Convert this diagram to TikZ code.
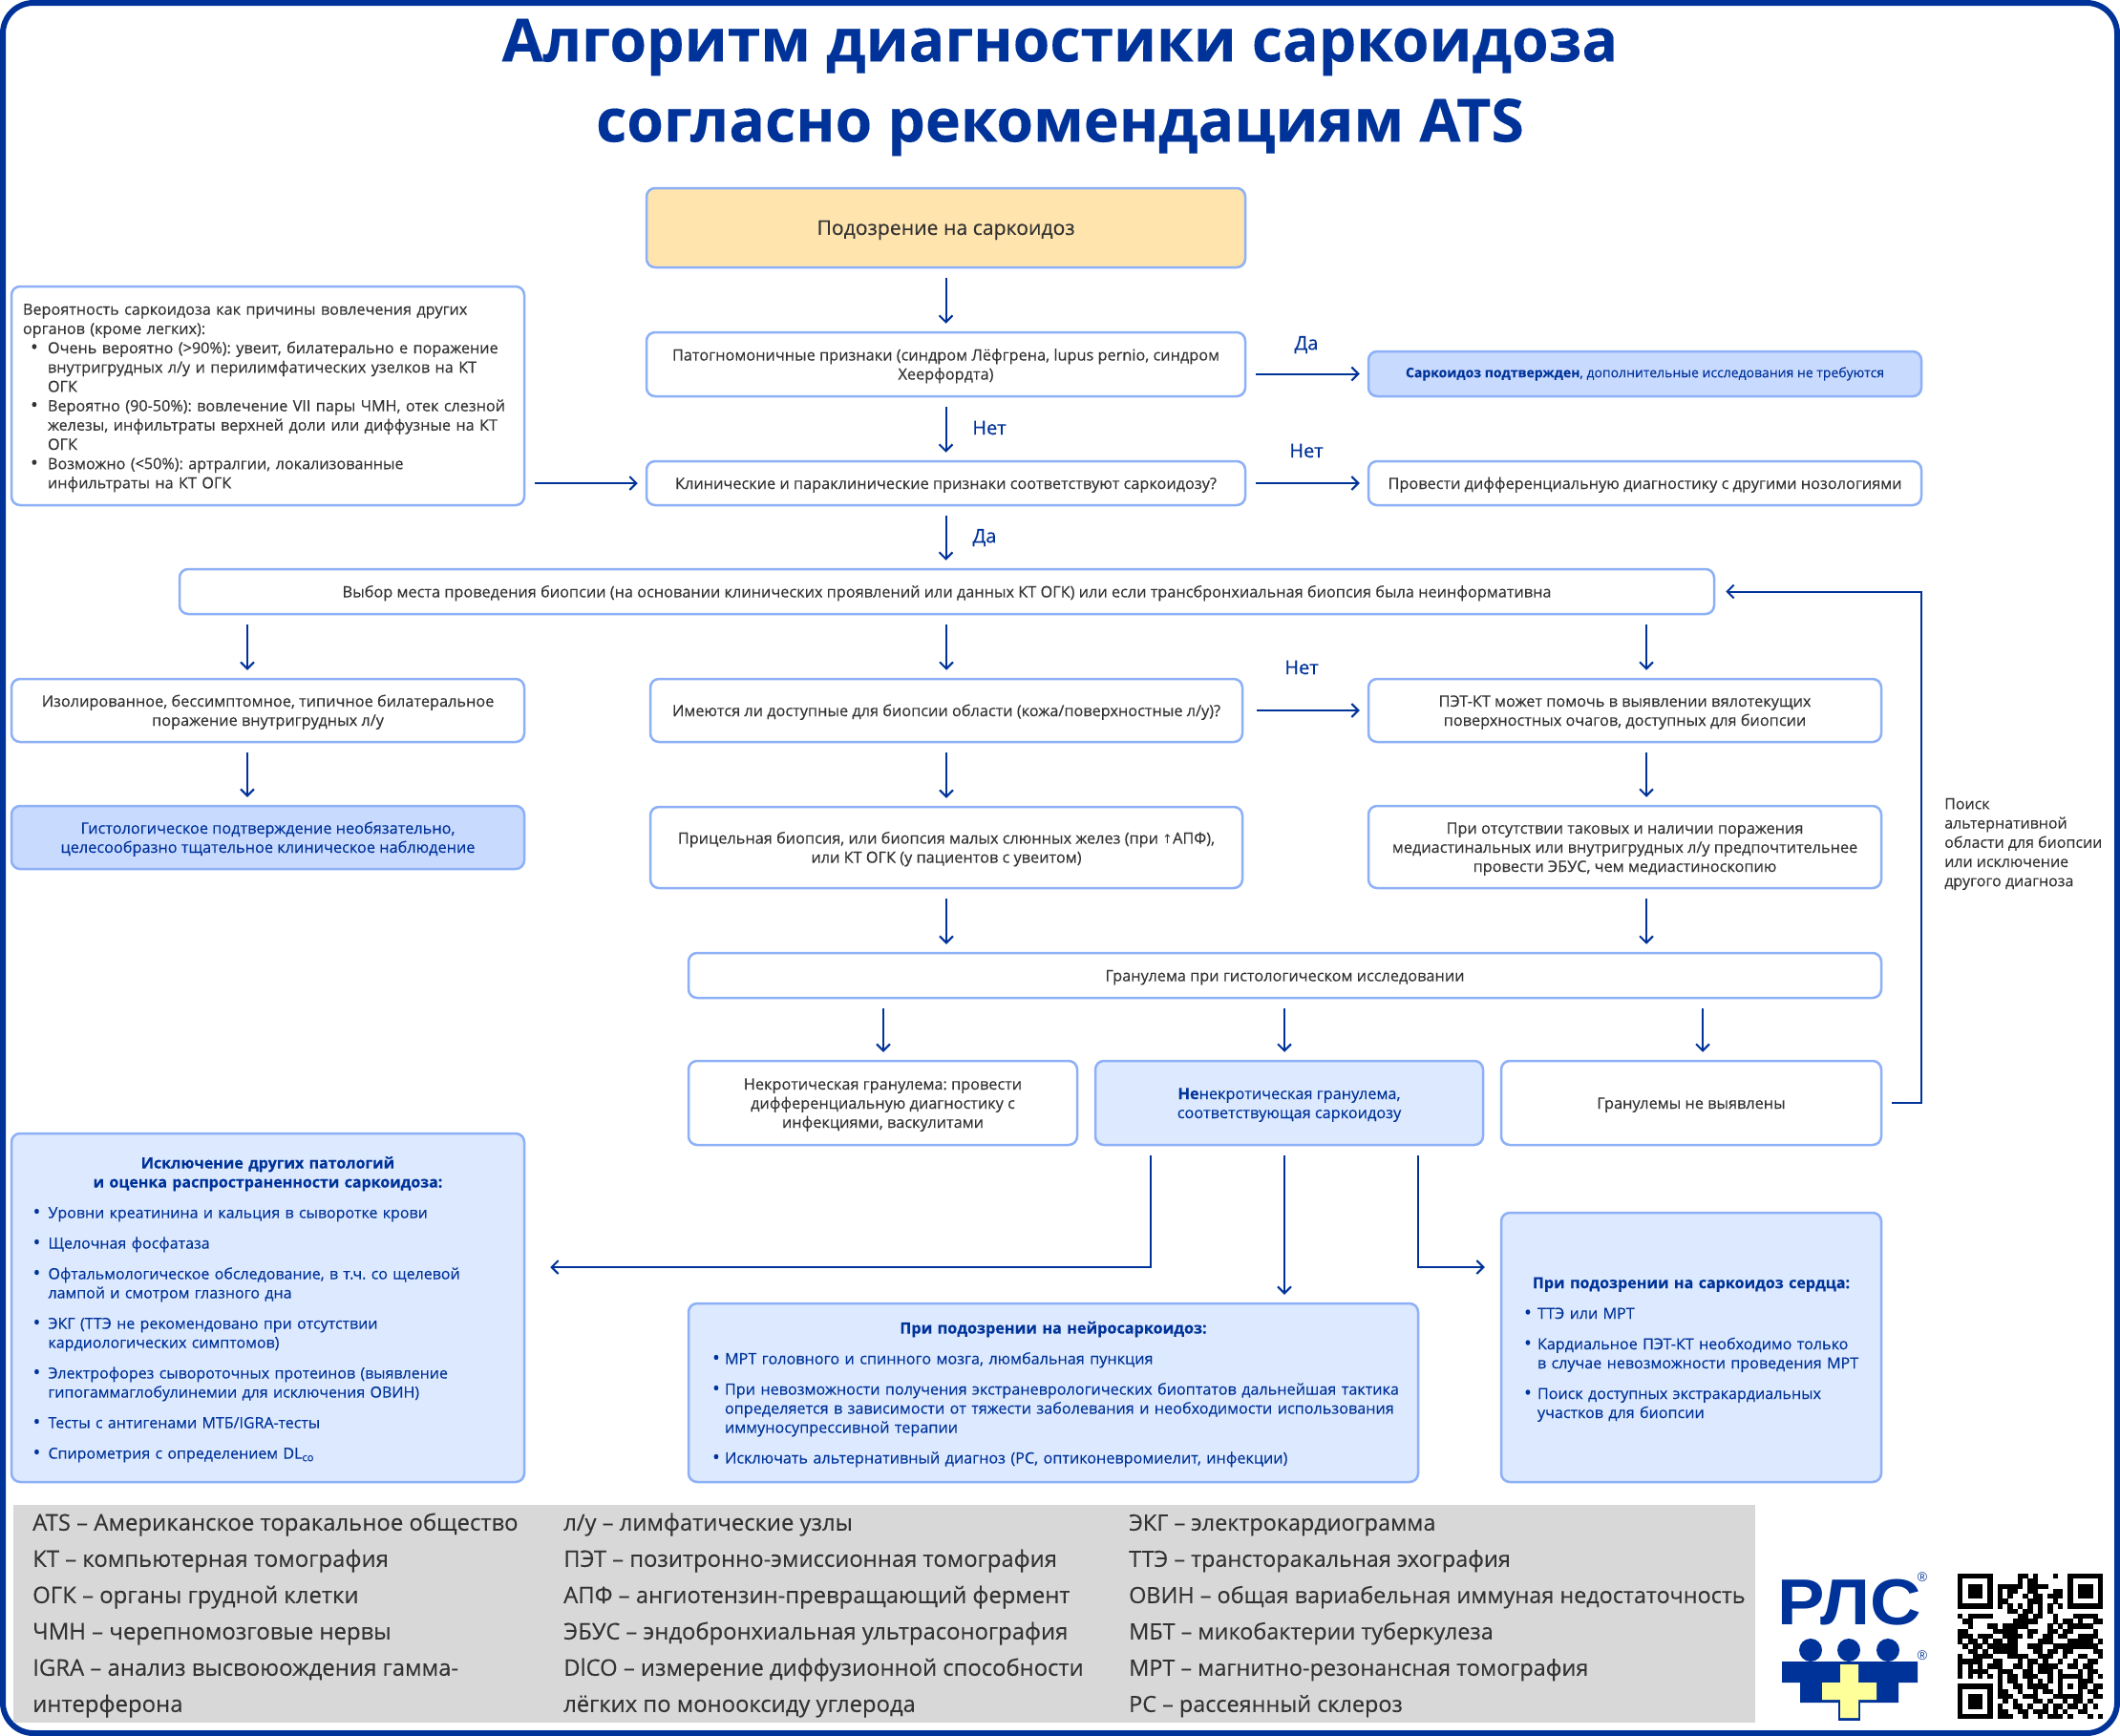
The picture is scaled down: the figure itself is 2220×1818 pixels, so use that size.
\documentclass[tikz,border=0pt]{standalone}
\usepackage{fontspec}
\setmainfont{Open Sans}[BoldFont={Open Sans Bold},RawFeature={embolden=0.2}]
\newfontfamily\dejav{DejaVu Sans}
\newfontfamily\libsans{Liberation Sans}
\usetikzlibrary{arrows.meta,calc}
\definecolor{navy}{HTML}{003399}
\definecolor{bord}{HTML}{8DB0F7}
\definecolor{fillb}{HTML}{DCE9FF}
\definecolor{fillc}{HTML}{C9DAFF}
\definecolor{fillo}{HTML}{FFE4AE}
\definecolor{txt}{HTML}{333333}
\definecolor{legend}{HTML}{D8D8D8}
\definecolor{crossy}{HTML}{FFFF99}
\AtBeginDocument{\frenchspacing}
\newcommand\fs[2]{\fontsize{#1}{#2}\selectfont}
\newcommand\upamt{16pt}
\newcommand\mybox[7]{\node[bxbase,#6,minimum width={#4-#3},minimum height={#5-#2}] (#1) at ({(#3+#4)/2},{(#2+#5)/2}) {\rule{0pt}{\upamt}#7};}
\newcommand\bu{\raisebox{-0.6pt}{\fontsize{21}{20}\selectfont •}}
\newcount\qx
\def\qrchars#1{\ifx#1;\else\if#11\fill[black] ({2050+\the\qx*5.24},{1648+\qry*5.24}) rectangle +(5.4,5.4);\fi\global\advance\qx by 1 \expandafter\qrchars\fi}
\tikzset{
 strutup/.code={\renewcommand\upamt{#1}},
 bxbase/.style={draw=bord,line width=2.5pt,rounded corners=9pt,fill=white,align=center,text=txt,font=\fs{16.3}{20},inner sep=0pt},
 bluebox/.style={fill=fillb,text=navy},
 arr/.style={draw=navy,line width=2pt,-{Straight Barb[length=7pt,width=14pt,line width=2pt]},shorten <=10pt,shorten >=8pt},
 lbl/.style={text=navy,font=\fs{20}{24},inner sep=0pt},
}
\begin{document}
\begin{tikzpicture}[x=1pt,y=-1pt]
\useasboundingbox (0,0) rectangle (2220,1818);
\fill[white] (0,0) rectangle (2220,1818);
\draw[navy,line width=6pt,rounded corners=32pt] (3,3) rectangle (2217,1815);
\node[text=navy,align=center,font=\fs{62.5}{84}\bfseries,inner sep=0pt] (title) at (1110,91.5) {Алгоритм диагностики саркоидоза\\согласно рекомендациям ATS};

\fill[legend] (14,1576) rectangle (1838,1804);

\coordinate (ax1) at (259,0);
\coordinate (ax2) at (991,0);
\coordinate (ax3) at (1724,0);
\coordinate (gx1) at (925,0);
\coordinate (gx2) at (1345,0);
\coordinate (gx3) at (1783,0);
\coordinate (nx1) at (1205,0);
\coordinate (nx3) at (1485,0);
\coordinate (sx) at (2012,0);
\coordinate (ey) at (0,1327);

\mybox{susp}{197}{677}{1304}{280}{fill=fillo,font=\fs{21.2}{24},strutup=20pt}{Подозрение на саркоидоз}
\mybox{patho}{348}{677}{1304}{415}{}{Патогномоничные признаки (синдром Лёфгрена, lupus pernio, синдром\\Хеерфордта)}
\mybox{clin}{483}{677}{1304}{529}{}{Клинические и параклинические признаки соответствуют саркоидозу?}
\mybox{conf}{368}{1433}{2012}{415}{fill=fillc,text=navy,font=\fs{14}{18},strutup=10pt}{\textbf{Саркоидоз подтвержден}, дополнительные исследования не требуются}
\mybox{diff}{483}{1433}{2012}{529}{}{Провести дифференциальную диагностику с другими нозологиями}
\mybox{prob}{300}{12}{549}{529}{align=left,text width=513pt,font=\fs{16.2}{20.2}}{%
Вероятность саркоидоза как причины вовлечения других\\
органов (кроме легких):\\
\hspace*{8pt}\makebox[18pt][l]{\bu}Очень вероятно (>90\%): увеит, билатерально е поражение\\
\hspace*{26pt}внутригрудных л/у и перилимфатических узелков на КТ\\
\hspace*{26pt}ОГК\\
\hspace*{8pt}\makebox[18pt][l]{\bu}Вероятно (90-50\%): вовлечение VII пары ЧМН, отек слезной\\
\hspace*{26pt}железы, инфильтраты верхней доли или диффузные на КТ\\
\hspace*{26pt}ОГК\\
\hspace*{8pt}\makebox[18pt][l]{\bu}Возможно (<50\%): артралгии, локализованные\\
\hspace*{26pt}инфильтраты на КТ ОГК}
\mybox{biop}{596}{188}{1795}{643}{}{Выбор места проведения биопсии (на основании клинических проявлений или данных КТ ОГК) или если трансбронхиальная биопсия была неинформативна}
\mybox{iso}{711}{12}{549}{777}{}{Изолированное, бессимптомное, типичное билатеральное\\поражение внутригрудных л/у}
\mybox{hist}{844}{12}{549}{910}{fill=fillc,text=navy}{Гистологическое подтверждение необязательно,\\целесообразно тщательное клиническое наблюдение}
\mybox{avail}{711}{681}{1301}{777}{}{Имеются ли доступные для биопсии области (кожа/поверхностные л/у)?}
\mybox{pet}{711}{1433}{1970}{777}{}{ПЭТ-КТ может помочь в выявлении вялотекущих\\поверхностных очагов, доступных для биопсии}
\mybox{targ}{845}{681}{1301}{930}{}{Прицельная биопсия, или биопсия малых слюнных желез (при {\dejav\fs{13}{20}↑}АПФ),\\или КТ ОГК (у пациентов с увеитом)}
\mybox{abs}{844}{1433}{1970}{930}{}{При отсутствии таковых и наличии поражения\\медиастинальных или внутригрудных л/у предпочтительнее\\провести ЭБУС, чем медиастиноскопию}
\mybox{gran}{998}{721}{1970}{1045}{}{Гранулема при гистологическом исследовании}
\mybox{necr}{1111}{721}{1128}{1199}{}{Некротическая гранулема: провести\\дифференциальную диагностику с\\инфекциями, васкулитами}
\mybox{non}{1111}{1147}{1553}{1199}{bluebox}{\textbf{Не}некротическая гранулема,\\соответствующая саркоидозу}
\mybox{none}{1111}{1572}{1970}{1199}{}{Гранулемы не выявлены}
\mybox{excl}{1187}{12}{549}{1552}{bluebox,align=left,text width=500pt,font=\fs{16}{20}}{%
\makebox[500pt][c]{\textbf{Исключение других патологий}}\\
\makebox[500pt][c]{\textbf{и оценка распространенности саркоидоза:}}\\[12pt]
\hspace*{4pt}\makebox[16pt][l]{\bu}Уровни креатинина и кальция в сыворотке крови\\[12pt]
\hspace*{4pt}\makebox[16pt][l]{\bu}Щелочная фосфатаза\\[12pt]
\hspace*{4pt}\makebox[16pt][l]{\bu}Офтальмологическое обследование, в т.ч. со щелевой\\
\hspace*{20pt}лампой и смотром глазного дна\\[12pt]
\hspace*{4pt}\makebox[16pt][l]{\bu}ЭКГ (ТТЭ не рекомендовано при отсутствии\\
\hspace*{20pt}кардиологических симптомов)\\[12pt]
\hspace*{4pt}\makebox[16pt][l]{\bu}Электрофорез сывороточных протеинов (выявление\\
\hspace*{20pt}гипогаммаглобулинемии для исключения ОВИН)\\[12pt]
\hspace*{4pt}\makebox[16pt][l]{\bu}Тесты с антигенами МТБ/IGRA-тесты\\[12pt]
\hspace*{4pt}\makebox[16pt][l]{\bu}Спирометрия с определением DL\textsubscript{co}}
\mybox{neuro}{1365}{721}{1485}{1552}{bluebox,align=left,text width=728pt,font=\fs{16.2}{20}}{%
\makebox[728pt][c]{\textbf{При подозрении на нейросаркоидоз:}}\\[12pt]
\hspace*{7pt}\makebox[13pt][l]{\bu}МРТ головного и спинного мозга, люмбальная пункция\\[12pt]
\hspace*{7pt}\makebox[13pt][l]{\bu}При невозможности получения экстраневрологических биоптатов дальнейшая тактика\\
\hspace*{20pt}определяется в зависимости от тяжести заболевания и необходимости использования\\
\hspace*{20pt}иммуносупрессивной терапии\\[12pt]
\hspace*{7pt}\makebox[13pt][l]{\bu}Исключать альтернативный диагноз (РС, оптиконевромиелит, инфекции)}
\mybox{card}{1270}{1572}{1970}{1552}{bluebox,align=left,text width=362pt,font=\fs{16.1}{20}}{%
\makebox[362pt][c]{\textbf{При подозрении на саркоидоз сердца:}}\\[12pt]
\hspace*{6pt}\makebox[14pt][l]{\bu}ТТЭ или МРТ\\[12pt]
\hspace*{6pt}\makebox[14pt][l]{\bu}Кардиальное ПЭТ-КТ необходимо только\\
\hspace*{20pt}в случае невозможности проведения МРТ\\[12pt]
\hspace*{6pt}\makebox[14pt][l]{\bu}Поиск доступных экстракардиальных\\
\hspace*{20pt}участков для биопсии}

\node[text=txt,align=left,anchor=west,font=\fs{16}{20.2},inner sep=0pt] (note) at (2036,884) {Поиск\\альтернативной\\области для биопсии\\или исключение\\другого диагноза};

\draw[arr] (susp) -- (patho);
\draw[arr] (patho) -- (clin);
\draw[arr] (clin) -- (biop.north -| clin);
\draw[arr] (patho.east |- conf.west) -- (conf.west);
\draw[arr] (clin) -- (diff);
\draw[arr] (prob.east |- clin.west) -- (clin.west);
\draw[arr] (biop.south -| ax1) -- (iso.north -| ax1);
\draw[arr] (biop.south -| ax2) -- (avail.north -| ax2);
\draw[arr] (biop.south -| ax3) -- (pet.north -| ax3);
\draw[arr,shorten <=14pt] (avail) -- (pet);
\draw[arr] (iso.south -| ax1) -- (hist.north -| ax1);
\draw[arr] (avail.south -| ax2) -- (targ.north -| ax2);
\draw[arr] (pet.south -| ax3) -- (abs.north -| ax3);
\draw[arr] (targ.south -| ax2) -- (gran.north -| ax2);
\draw[arr] (abs.south -| ax3) -- (gran.north -| ax3);
\draw[arr] (gran.south -| gx1) -- (necr.north -| gx1);
\draw[arr] (gran.south -| gx2) -- (non.north -| gx2);
\draw[arr] (gran.south -| gx3) -- (none.north -| gx3);
\draw[arr,shorten >=11pt] (none.east) -- (sx |- none.east) |- (biop.east);
\draw[arr,shorten >=26pt] (non.south -| nx1) |- (ey -| excl.east);
\draw[arr] (non.south -| gx2) -- (neuro.north -| gx2);
\draw[arr,shorten >=16pt] (non.south -| nx3) |- (ey -| card.west);

\node[lbl] (l1) at (1368,361) {Да};
\node[lbl] (l2) at (1368,472) {Нет};
\node[lbl] (l3) at (1036,448) {Нет};
\node[lbl] (l4) at (1031,563) {Да};
\node[lbl] (l5) at (1363,699) {Нет};

\node[text=txt,align=left,anchor=north west,font=\fs{23.9}{38},inner sep=0pt] (lega) at (34,1576) {\strut ATS – Американское торакальное общество\\КТ – компьютерная томография\\ОГК – органы грудной клетки\\ЧМН – черепномозговые нервы\\IGRA – анализ высвоюождения гамма-\\интерферона};
\node[text=txt,align=left,anchor=north west,font=\fs{23.8}{38},inner sep=0pt] (legb) at (590,1576) {\strut л/у – лимфатические узлы\\ПЭТ – позитронно-эмиссионная томография\\АПФ – ангиотензин-превращающий фермент\\ЭБУС – эндобронхиальная ультрасонография\\DlCO – измерение диффузионной способности\\лёгких по монооксиду углерода};
\node[text=txt,align=left,anchor=north west,font=\fs{23.4}{38},inner sep=0pt] (legc) at (1182,1576) {\strut ЭКГ – электрокардиограмма\\ТТЭ – трансторакальная эхография\\ОВИН – общая вариабельная иммуная недостаточность\\МБТ – микобактерии туберкулеза\\МРТ – магнитно-резонансная томография\\РС – рассеянный склероз};

% logo
\node[text=navy,font=\libsans\bfseries\fs{68}{68},inner sep=0pt] (rls) at (1937,1678) {\scalebox{1.09}[1]{РЛС}};
\node[text=navy,font=\libsans\fs{14}{14},inner sep=0pt] (reg1) at (2013,1652) {®};
\node[text=navy,font=\libsans\fs{14}{14},inner sep=0pt] (reg2) at (2013,1734) {®};
\fill[navy] (1896,1728) circle (12) (1936,1728) circle (12) (1977,1728) circle (12);
\fill[navy] (1866,1740) -- (2008,1740) -- (2008,1762) -- (1988,1762) -- (1988,1783) -- (1885,1783) -- (1885,1762) -- (1866,1762) -- cycle;
\fill[navy] (1925,1780) rectangle (1948,1802);
\fill[crossy] (1927,1743) rectangle (1946,1799) (1908,1762) rectangle (1965,1780);

% QR
\foreach \qry/\qrs in {
0/11111110000011010001001111111,
1/10000010000010110000001000001,
2/10111010111110111100001011101,
3/10111010101100110001101011101,
4/10111010101001011011101011101,
5/10000010110000111001001000001,
6/11111110101010101010101111111,
7/00000000001101101010000000000,
8/10111110000011011001000111110,
9/01100000000111110001011010011,
10/00100011011111000010101111100,
11/11000001111100110011011000010,
12/11101110011110100110110011110,
13/10110101101100001110001111101,
14/01011011111100111001111111110,
15/00110101111100011011011000011,
16/10011110001111001110010011001,
17/11111001100010110100100100110,
18/10101011100110101111001101100,
19/10111100111001101110100010110,
20/10101010101101110010111110101,
21/00000000101100101010100011100,
22/11111110100110111100101011011,
23/10000010110010010110100010110,
24/10111010111001110001111110011,
25/10111010010100011010010110100,
26/10111010100110100101101101010,
27/10000010110011011101010011000,
28/11111110111001001011101000101}{%
\global\qx=0 \expandafter\qrchars\qrs;}
\end{tikzpicture}
\end{document}
